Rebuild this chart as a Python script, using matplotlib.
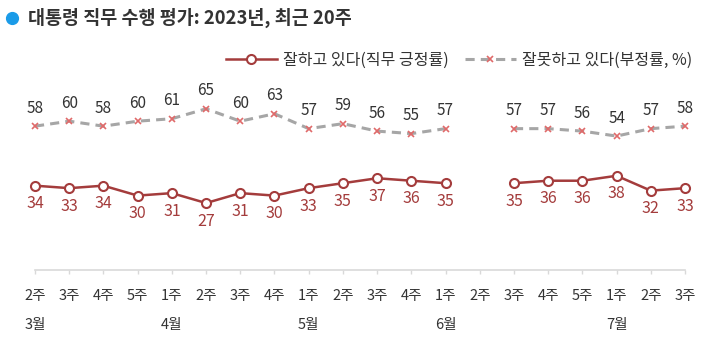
import numpy as np
import matplotlib
matplotlib.use("Agg")
import matplotlib.pyplot as plt
from matplotlib.lines import Line2D

plt.rcParams['font.family'] = ['Noto Sans CJK KR', 'DejaVu Sans']

week_labels = ["2주", "3주", "4주", "5주", "1주", "2주", "3주", "4주", "1주", "2주",
               "3주", "4주", "1주", "2주", "3주", "4주", "5주", "1주", "2주", "3주"]
month_labels = {0: "3월", 4: "4월", 8: "5월", 12: "6월", 17: "7월"}
approve = [34, 33, 34, 30, 31, 27, 31, 30, 33, 35, 37, 36, 35, None, 35, 36, 36, 38, 32, 33]
disapprove = [58, 60, 58, 60, 61, 65, 60, 63, 57, 59, 56, 55, 57, None, 57, 57, 56, 54, 57, 58]

title = "대통령 직무 수행 평가: 2023년, 최근 20주"
label_approve = "잘하고 있다(직무 긍정률)"
label_disapprove = "잘못하고 있다(부정률, %)"

red = "#a43c3c"
gray = "#a6a6a6"
xred = "#e06a6a"
text_dark = "#333333"

x = np.arange(len(week_labels))
a = np.array([np.nan if v is None else v for v in approve], dtype=float)
d = np.array([np.nan if v is None else v for v in disapprove], dtype=float)

fig = plt.figure(figsize=(7.16, 3.41), dpi=100)
ax = fig.add_axes([35 / 716, (341 - 270) / 341, 650 / 716, 248 / 341])

ax.plot(x, a, color=red, lw=1.8, marker='o', markersize=6.5, markerfacecolor='white',
        markeredgecolor=red, markeredgewidth=1.5, clip_on=False, label=label_approve)
ax.plot(x, d, color=gray, lw=2.2, linestyle=(0, (3, 2)), marker='x', markersize=5,
        markeredgecolor=xred, markeredgewidth=1.2, clip_on=False, label=label_disapprove)

for xi, v in zip(x, a):
    if not np.isnan(v):
        ax.annotate(f"{int(v)}", (xi, v), xytext=(0, -13), textcoords='offset points',
                    ha='center', va='center', color=red, fontsize=11.5)
for xi, v in zip(x, d):
    if not np.isnan(v):
        ax.annotate(f"{int(v)}", (xi, v), xytext=(0, 13), textcoords='offset points',
                    ha='center', va='center', color=text_dark, fontsize=11)

ax.set_xlim(0, len(week_labels) - 1)
ax.set_ylim(0, 100)
for s in ['top', 'right', 'left']:
    ax.spines[s].set_visible(False)
ax.spines['bottom'].set_color('#d9d9d9')
ax.spines['bottom'].set_linewidth(1.2)
ax.set_yticks([])
ax.set_xticks(x)
ax.set_xticklabels(week_labels, fontsize=10.5, color=text_dark)
ax.tick_params(axis='x', length=3, color='#d9d9d9', width=1, pad=11)

for i, m in month_labels.items():
    ax.annotate(m, (x[i], 0), xytext=(0, -55), textcoords='offset pixels',
                ha='center', va='center', fontsize=10.5, color=text_dark,
                annotation_clip=False)

leg = ax.legend(loc='center right', bbox_to_anchor=(699 / 716, (341 - 60) / 341),
                bbox_transform=fig.transFigure, ncol=2, frameon=False, fontsize=11.5,
                handlelength=3.2, handletextpad=0.4, columnspacing=1.0, borderaxespad=0,
                labelcolor=text_dark)

fig.text(28 / 716, (341 - 18) / 341, title, fontsize=13.3, fontweight='bold',
         color='#333333', va='center', ha='left')
fig.add_artist(Line2D([12 / 716], [(341 - 18) / 341], marker='o', markersize=8.5,
                      color='#1a9be8', transform=fig.transFigure))

fig.savefig("out.png", dpi=100)
